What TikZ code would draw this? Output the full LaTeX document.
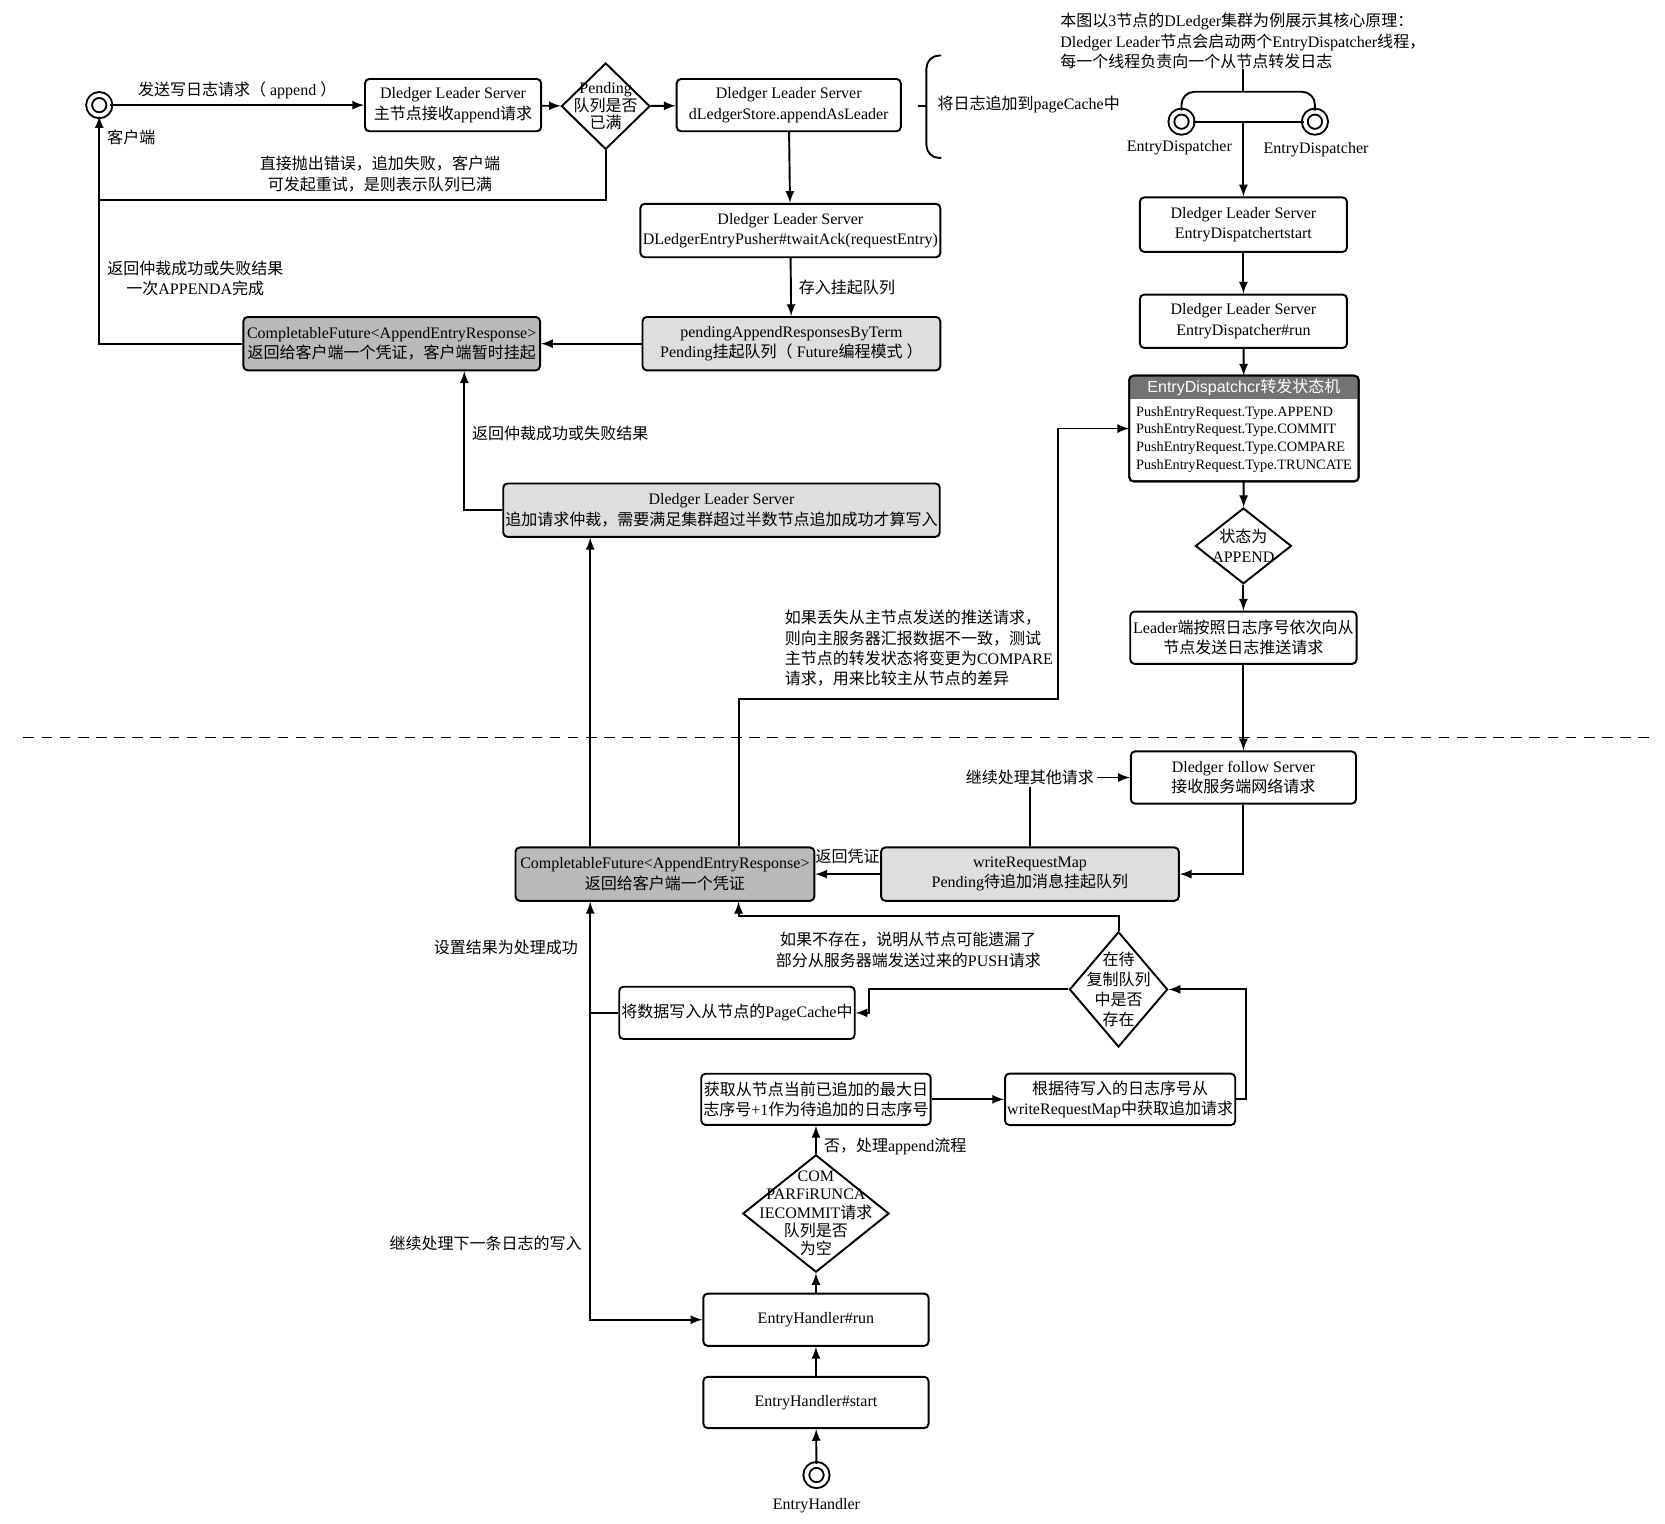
\documentclass[tikz,border=0pt]{standalone}
\usepackage{fontspec}
\setmainfont{Liberation Serif}
\setsansfont{Liberation Sans}
\newfontfamily\cjkfont{Noto Sans CJK SC}
\usetikzlibrary{shapes.geometric,arrows}

% switch to the CJK font for Chinese characters
\XeTeXinterchartokenstate=1
\newXeTeXintercharclass\cjkclass
\newcount\cjkcount
\cjkcount="3000 \loop\XeTeXcharclass\cjkcount=\cjkclass \advance\cjkcount by 1 \ifnum\cjkcount<"3040 \repeat
\cjkcount="4E00 \loop\XeTeXcharclass\cjkcount=\cjkclass \advance\cjkcount by 1 \ifnum\cjkcount<"A000 \repeat
\cjkcount="FF00 \loop\XeTeXcharclass\cjkcount=\cjkclass \advance\cjkcount by 1 \ifnum\cjkcount<"FFF0 \repeat
\XeTeXinterchartoks 0 \cjkclass = {\begingroup\cjkfont}
\XeTeXinterchartoks 4095 \cjkclass = {\begingroup\cjkfont}
\XeTeXinterchartoks \cjkclass 0 = {\endgroup}
\XeTeXinterchartoks \cjkclass 4095 = {\endgroup}

\tikzstyle{server}=[draw, rounded corners=2pt, line width=0.9pt, align=center, inner xsep=1pt, minimum height=24.5pt, fill=white]
\tikzstyle{queue}=[server, fill=black!13]
\tikzstyle{future}=[server, fill=black!27]
\tikzstyle{check}=[draw, diamond, line width=0.9pt, inner sep=0pt]
\tikzstyle{thread}=[draw, circle, double, double distance=1.8pt, line width=0.9pt, minimum size=9.5pt, inner sep=0pt]
\tikzstyle{flow}=[-latex, line width=0.9pt]
\tikzstyle{link}=[line width=0.9pt]
\tikzstyle{caption}=[align=center, inner sep=1pt]

\begin{document}
\begin{tikzpicture}[x=0.5pt, y=-0.5pt, font=\fontsize{7.5}{9.5}\selectfont]
  \useasboundingbox (0,0) rectangle (1560,1427);

  % leader side
  \node[thread] (client) at (93,98.5) {};
  \node[caption] at (123,129) {客户端};
  \node[server, minimum width=82.5pt] (recv) at (424.5,98.5) {Dledger Leader Server\\主节点接收append请求};
  \node[check, minimum width=41.5pt, minimum height=40.5pt] (full) at (567.5,99.5) {};
  \node[caption, font=\fontsize{7.5}{8.25}\selectfont] at (full) {Pending\\队列是否\\已满};
  \node[server, minimum width=105pt] (store) at (739,98.5) {Dledger Leader Server\\dLedgerStore.appendAsLeader};
  \node[server, minimum width=140.5pt, minimum height=25pt] (pusher) at (740.5,216) {Dledger Leader Server\\DLedgerEntryPusher\#twaitAck(requestEntry)};
  \node[queue, minimum width=139.5pt, minimum height=25pt] (pending) at (741.5,322) {pendingAppendResponsesByTerm\\Pending挂起队列（ Future编程模式 ）};
  \node[future, minimum width=139pt, minimum height=25pt] (cf1) at (367,322) {CompletableFuture<AppendEntryResponse>\\返回给客户端一个凭证，客户端暂时挂起};
  \node[queue, minimum width=204pt, minimum height=25pt] (arb) at (676,478) {Dledger Leader Server\\追加请求仲裁，需要满足集群超过半数节点追加成功才算写入};
  \coordinate (back) at (93,187);

  \draw[flow] (client) -- node[above=-1pt]{发送写日志请求（ append ）} (recv);
  \draw[flow] (recv) -- (full);
  \draw[flow] (full) -- (store);
  \draw[link] (full.south) |- (back);
  \node[caption] at (356,163) {直接抛出错误，追加失败，客户端\\可发起重试，是则表示队列已满};
  \draw[flow] (cf1.west) -| (client.south);
  \node[caption] at (183,261) {返回仲裁成功或失败结果\\一次APPENDA完成};
  \draw[flow] (store) -- (pusher);
  \draw[flow] (pusher) -- node[right]{存入挂起队列} (pending);
  \draw[flow] (pending) -- (cf1);
  \draw[flow] (arb.west) -| ([xshift=34pt]cf1.south);
  \node[caption, anchor=west] at (440,406) {返回仲裁成功或失败结果};

  % brace
  \draw[link, rounded corners=6pt] (882,52) -- (868,52) -- (868,148) -- (882,148);
  \draw[link] (860,99) -- (868,99);
  \node[caption, anchor=west] at (876,98) {将日志追加到pageCache中};

  % dispatcher threads
  \node[align=left, anchor=north west, inner sep=0pt] (note) at (993,12) {本图以3节点的DLedger集群为例展示其核心原理：\\Dledger Leader节点会启动两个EntryDispatcher线程，\\每一个线程负责向一个从节点转发日志};
  \coordinate (fork) at (1165,86);
  \node[thread] (dl) at (1107,114) {};
  \node[thread] (dr) at (1232,114) {};
  \node[caption] at (1105,138) {EntryDispatcher};
  \node[caption] at (1233,140) {EntryDispatcher};
  \node[server, minimum width=97pt, minimum height=25.5pt] (ed1) at (1165,210.5) {Dledger Leader Server\\EntryDispatchertstart};
  \node[server, minimum width=97pt, minimum height=25pt] (ed2) at (1165,301) {Dledger Leader Server\\EntryDispatcher\#run};
  \node[server, minimum width=107.5pt, minimum height=49.5pt, outer sep=0pt] (sm) at (1165.5,401.5) {};
  \begin{scope}
    \clip[rounded corners=2pt] (sm.north west) rectangle (sm.south east);
    \fill[black!55] (sm.north west) rectangle ([yshift=-11pt]sm.north east);
  \end{scope}
  \draw[link, rounded corners=2pt] (sm.north west) rectangle (sm.south east);
  \node[text=white, font=\sffamily\fontsize{7.5}{9}\selectfont] at ([yshift=-5.5pt]sm.north) {EntryDispatchcr转发状态机};
  \node[align=left, anchor=west, inner sep=0pt, font=\fontsize{6.7}{8.25}\selectfont] at ([xshift=3pt,yshift=-5pt]sm.west) {PushEntryRequest.Type.APPEND\\PushEntryRequest.Type.COMMIT\\PushEntryRequest.Type.COMPARE\\PushEntryRequest.Type.TRUNCATE};
  \node[check, minimum width=45pt, minimum height=35.5pt] (isappend) at (1165,511.5) {};
  \node[caption] at (isappend) {状态为\\APPEND};
  \node[server, minimum width=106pt] (push) at (1165,597.5) {Leader端按照日志序号依次向从\\节点发送日志推送请求};

  \draw[link] (note.south -| fork) -- (fork);
  \draw[link, rounded corners=6pt] (dl.north) |- (fork) -| (dr.north);
  \draw[link] (dl) -- (dr);
  \draw[flow] (dl -| ed1) -- (ed1);
  \draw[flow] (ed1) -- (ed2);
  \draw[flow] (ed2) -- (sm);
  \draw[flow] (sm) -- (isappend);
  \draw[flow] (isappend) -- (push);

  \draw[link, dashed, dash pattern=on 5pt off 3.5pt] (22,691) -- (1548,691);

  % follower side
  \node[server, minimum width=105.5pt] (follower) at (1165,728.5) {Dledger follow Server\\接收服务端网络请求};
  \node[caption] (cont) at (965,728.5) {继续处理其他请求};
  \node[queue, minimum width=139.5pt, minimum height=25pt] (wrm) at (965,819) {writeRequestMap\\Pending待追加消息挂起队列};
  \node[future, minimum width=140pt, minimum height=25pt] (cf2) at (623,819) {CompletableFuture<AppendEntryResponse>\\返回给客户端一个凭证};
  \node[check, minimum width=46pt, minimum height=54pt] (exist) at (1048,927) {};
  \node[caption] at (exist) {在待\\复制队列\\中是否\\存在};
  \node[server, minimum width=106.5pt] (cache) at (690.5,949) {将数据写入从节点的PageCache中};
  \node[server, minimum width=105.5pt, minimum height=24pt] (maxidx) at (764.5,1030) {获取从节点当前已追加的最大日\\志序号+1作为待追加的日志序号};
  \node[server, minimum width=105.5pt, minimum height=24pt] (fetch) at (1049.5,1030) {根据待写入的日志序号从\\writeRequestMap中获取追加请求};
  \node[check, minimum width=68.5pt, minimum height=55pt] (empty) at (764.5,1137) {};
  \node[caption, font=\fontsize{7.5}{8.6}\selectfont] at (empty) {COM\\PARFiRUNCA\\IECOMMIT请求\\队列是否\\为空};
  \node[server, minimum width=105.5pt] (run) at (764.5,1236.5) {EntryHandler\#run};
  \node[server, minimum width=105.5pt, minimum height=24pt] (start) at (764.5,1314) {EntryHandler\#start};
  \node[thread] (handler) at (765,1382) {};
  \node[caption] at (765,1411) {EntryHandler};
  \coordinate (turn) at (991,655);
  \coordinate (miss) at (692,858);
  \coordinate (wr) at (814,949);
  \coordinate (split) at (553,949);

  \draw[flow] (push) -- (follower);
  \draw[flow] (cont) -- (follower);
  \draw[link] (wrm.north) -- (wrm.north |- cont.south);
  \draw[flow] (follower.south) |- (wrm.east);
  \draw[flow] (wrm) -- node[above=1pt]{返回凭证} (cf2);
  \draw[flow] ([xshift=34.5pt]cf2.north) |- (turn) |- (sm.west);
  \node[caption, align=left, anchor=west] at (733,607.5) {如果丢失从主节点发送的推送请求，\\则向主服务器汇报数据不一致，测试\\主节点的转发状态将变更为COMPARE\\请求，用来比较主从节点的差异};
  \draw[flow] (cf2.north -| split) -- (arb.south -| split);
  \draw[flow] (exist.north) |- (miss) -- (cf2.south -| miss);
  \node[caption] at (851,890) {如果不存在，说明从节点可能遗漏了\\部分从服务器端发送过来的PUSH请求};
  \draw[flow] (exist.west) -| (wr) -- (cache.east);
  \draw[link] (cache.west) -- (split);
  \draw[flow] (split) -- (cf2.south -| split);
  \draw[flow] (split) |- (run.west);
  \node[caption] at (474,888) {设置结果为处理成功};
  \node[caption] at (455,1165) {继续处理下一条日志的写入};
  \draw[flow] (maxidx) -- (fetch);
  \draw[flow] (fetch.east) -- ([xshift=4.5pt]fetch.east) |- (exist.east);
  \draw[flow] (empty) -- node[right, pos=0.25]{否，处理append流程} (maxidx);
  \draw[flow] (run) -- (empty);
  \draw[flow] (start) -- (run);
  \draw[flow] (handler) -- (start);
\end{tikzpicture}
\end{document}
